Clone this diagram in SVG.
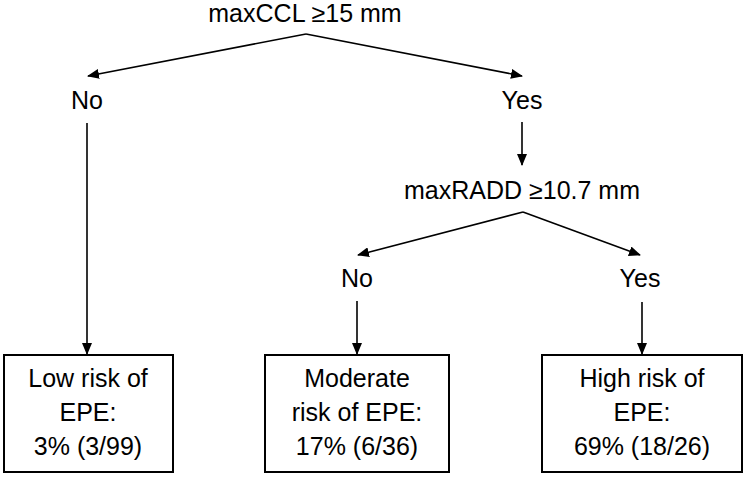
<svg xmlns="http://www.w3.org/2000/svg" width="744" height="477" viewBox="0 0 744 477">
<style>
text{font-family:"Liberation Sans",Arial,sans-serif;font-size:25px;fill:#000;text-anchor:middle}
.box{fill:#fff;stroke:#000;stroke-width:2}
.conn line{stroke:#000;stroke-width:1.6;marker-end:url(#ah)}
</style>
<defs>
<marker id="ah" markerUnits="userSpaceOnUse" markerWidth="12" markerHeight="10" viewBox="0 0 12 10" refX="11" refY="5" orient="auto">
<path d="M0,0 L12,5 L0,10 Z" fill="#000"/>
</marker>
</defs>
<rect width="744" height="477" fill="#fff"/>
<g id="q1"><text x="305" y="22">maxCCL ≥15 mm</text></g>
<g id="no1"><text x="87" y="109">No</text></g>
<g id="yes1"><text x="522" y="109">Yes</text></g>
<g id="q2"><text x="522" y="199">maxRADD ≥10.7 mm</text></g>
<g id="no2"><text x="357" y="287">No</text></g>
<g id="yes2"><text x="640" y="287">Yes</text></g>
<g id="low">
<rect class="box" x="4" y="355" width="169" height="117"/>
<text x="88" y="387">Low risk of</text>
<text x="88" y="421">EPE:</text>
<text x="88" y="455">3% (3/99)</text>
</g>
<g id="moderate">
<rect class="box" x="265" y="355" width="184" height="117"/>
<text x="357" y="387">Moderate</text>
<text x="357" y="421">risk of EPE:</text>
<text x="357" y="455">17% (6/36)</text>
</g>
<g id="high">
<rect class="box" x="542" y="355" width="200" height="117"/>
<text x="642" y="387">High risk of</text>
<text x="642" y="421">EPE:</text>
<text x="642" y="455">69% (18/26)</text>
</g>
<g id="connectors" class="conn">
<line x1="306" y1="34" x2="88" y2="76"/>
<line x1="306" y1="34" x2="522" y2="76"/>
<line x1="87" y1="123" x2="87" y2="354"/>
<line x1="522" y1="122" x2="522" y2="165"/>
<line x1="523" y1="212" x2="358" y2="255"/>
<line x1="523" y1="212" x2="640" y2="255"/>
<line x1="357" y1="301" x2="357" y2="354"/>
<line x1="642" y1="302" x2="642" y2="354"/>
</g>
</svg>
